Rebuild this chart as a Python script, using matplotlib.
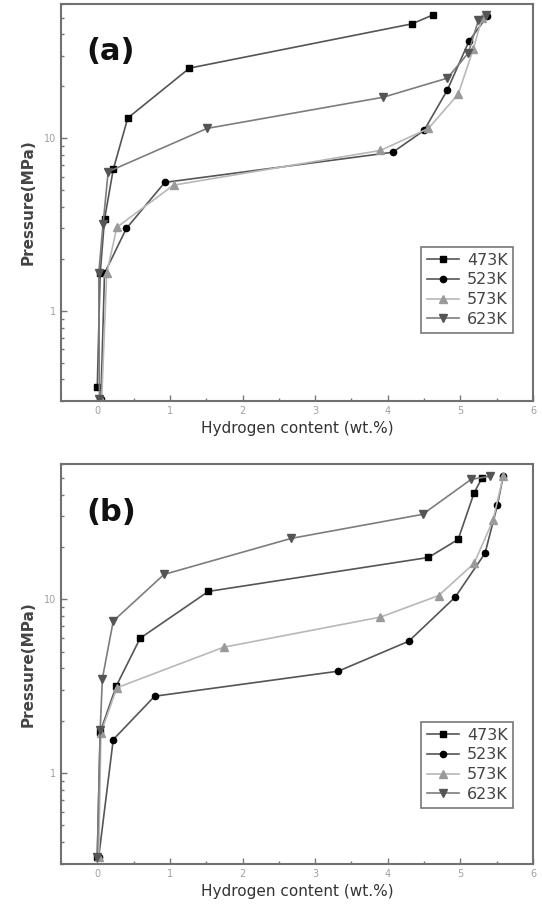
import matplotlib
matplotlib.use("Agg")
import matplotlib.pyplot as plt
from matplotlib.ticker import LogLocator, FixedLocator, NullFormatter, FuncFormatter

# temperatures (legend labels)
labels = ['473K', '523K', '573K', '623K']

# panel (a): x = hydrogen content (wt.%), y = pressure (MPa)
a_473_x = [0.0, 0.04, 0.10, 0.22, 0.42, 1.27, 4.33, 4.63]
a_473_y = [0.36, 1.65, 3.4, 6.6, 13.1, 25.5, 46, 52]
a_523_x = [0.05, 0.10, 0.40, 0.93, 4.07, 4.50, 4.82, 5.12, 5.37]
a_523_y = [0.31, 1.65, 3.0, 5.55, 8.3, 11.1, 19, 36.6, 51]
a_573_x = [0.06, 0.13, 0.27, 1.05, 3.90, 4.56, 4.97, 5.18, 5.30]
a_573_y = [0.30, 1.65, 3.05, 5.35, 8.5, 11.4, 18, 33, 50]
a_623_x = [0.03, 0.02, 0.08, 0.15, 1.51, 3.94, 4.82, 5.11, 5.25, 5.35]
a_623_y = [0.31, 1.65, 3.2, 6.4, 11.4, 17.3, 22.3, 31.2, 48.5, 52]

# panel (b)
b_473_x = [0.0, 0.04, 0.26, 0.59, 1.53, 4.56, 4.97, 5.19, 5.30]
b_473_y = [0.33, 1.72, 3.16, 5.97, 11.1, 17.4, 22.1, 41, 50]
b_523_x = [0.02, 0.22, 0.79, 3.32, 4.29, 4.93, 5.34, 5.51, 5.59]
b_523_y = [0.33, 1.56, 2.77, 3.86, 5.74, 10.3, 18.4, 34.7, 51]
b_573_x = [0.02, 0.05, 0.27, 1.74, 3.90, 4.70, 5.19, 5.45, 5.59]
b_573_y = [0.33, 1.70, 3.1, 5.3, 7.9, 10.5, 16.1, 28.5, 51]
b_623_x = [0.0, 0.04, 0.07, 0.22, 0.92, 2.67, 4.48, 5.15, 5.41]
b_623_y = [0.33, 1.76, 3.5, 7.5, 13.9, 22.4, 30.8, 49, 51]

styles = [
    dict(color='#555555', marker='s', mfc='black', mec='black', ms=4.5),
    dict(color='#555555', marker='o', mfc='black', mec='black', ms=4.5),
    dict(color='#b8b8b8', marker='^', mfc='#9a9a9a', mec='#9a9a9a', ms=5.5),
    dict(color='#7d7d7d', marker='v', mfc='#555555', mec='#555555', ms=5.5),
]

fig = plt.figure(figsize=(5.42, 9.10), dpi=100)
ax_a = fig.add_axes([0.1125, 0.5593, 0.8708, 0.4363])
ax_b = fig.add_axes([0.1125, 0.0505, 0.8708, 0.4396])

panels = [
    (ax_a, '(a)', [(a_473_x, a_473_y), (a_523_x, a_523_y), (a_573_x, a_573_y), (a_623_x, a_623_y)], 0.388),
    (ax_b, '(b)', [(b_473_x, b_473_y), (b_523_x, b_523_y), (b_573_x, b_573_y), (b_623_x, b_623_y)], 0.355),
]

for ax, tag, series, leg_top in panels:
    for (xs, ys), lab, st in zip(series, labels, styles):
        ax.plot(xs, ys, lw=1.2, label=lab, **st)
    ax.set_yscale('log')
    ax.set_xlim(-0.5, 6)
    ax.set_ylim(0.3, 60)
    ax.xaxis.set_major_locator(FixedLocator([0, 1, 2, 3, 4, 5, 6]))
    ax.xaxis.set_minor_locator(FixedLocator([0.5, 1.5, 2.5, 3.5, 4.5, 5.5]))
    ax.yaxis.set_major_locator(FixedLocator([1, 10]))
    ax.yaxis.set_minor_locator(LogLocator(base=10, subs=range(2, 10)))
    ax.yaxis.set_minor_formatter(NullFormatter())
    ax.yaxis.set_major_formatter(FuncFormatter(lambda v, p: '%g' % v))
    ax.tick_params(which='both', direction='in', top=False, right=False,
                   colors='#777777', labelcolor='#a0a0a0', labelsize=7)
    ax.tick_params(which='major', length=4, width=1)
    ax.tick_params(which='minor', length=2.5, width=1)
    for sp in ax.spines.values():
        sp.set_color('#707070')
        sp.set_linewidth(1.5)
    ax.set_xlabel('Hydrogen content (wt.%)', fontsize=11, color='#333333', labelpad=4)
    ax.set_ylabel('Pressure(MPa)', fontsize=11, color='#444444', fontweight='bold', labelpad=6)
    ax.text(0.106, 0.88, tag, transform=ax.transAxes, fontsize=22, fontweight='bold',
            ha='center', va='center', color='#111111')
    leg = ax.legend(loc='upper right', bbox_to_anchor=(0.958, leg_top), fontsize=11.5,
                    frameon=True, fancybox=False, edgecolor='#555555', handlelength=2.0,
                    borderpad=0.35, labelspacing=0.3, handletextpad=0.5, borderaxespad=0)
    leg.get_frame().set_linewidth(1.2)
    for t in leg.get_texts():
        t.set_color('#444444')

fig.savefig('out.png', dpi=100)
